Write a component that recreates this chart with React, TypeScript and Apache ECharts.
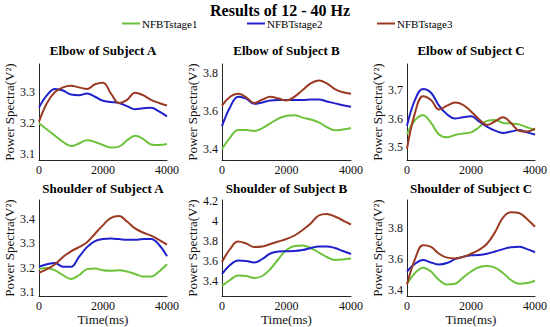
import React, { useEffect, useRef } from "react";
import * as echarts from "echarts";

const times = [0, 250, 500, 750, 1000, 1250, 1500, 1750, 2000, 2250, 2500, 2750, 3000, 3250, 3500, 3750, 4000];
const stageNames = ["NFBTstage1", "NFBTstage2", "NFBTstage3"];
const stageColors = ["#6cc23a", "#2020cc", "#9a3a22"];
const panelTitles = [
  "Elbow of Subject A", "Elbow of Subject B", "Elbow of Subject C",
  "Shoulder of Subject A", "Shoulder of Subject B", "Shoulder of Subject C",
];
const mainTitle = "Results of 12 - 40 Hz";
const yAxisName = "Power Spectra(V²)";
const xAxisName = "Time(ms)";

// Elbow A
const elbowA1 = [3.2, 3.18, 3.16, 3.14, 3.127, 3.135, 3.145, 3.14, 3.13, 3.122, 3.125, 3.145, 3.16, 3.15, 3.132, 3.13, 3.133];
const elbowA2 = [3.25, 3.29, 3.31, 3.305, 3.292, 3.29, 3.295, 3.285, 3.272, 3.268, 3.265, 3.255, 3.245, 3.248, 3.25, 3.238, 3.222];
const elbowA3 = [3.205, 3.265, 3.3, 3.315, 3.32, 3.315, 3.31, 3.325, 3.33, 3.295, 3.265, 3.275, 3.298, 3.29, 3.275, 3.265, 3.257];
// Elbow B
const elbowB1 = [3.4, 3.46, 3.5, 3.5, 3.495, 3.51, 3.535, 3.56, 3.575, 3.578, 3.565, 3.555, 3.54, 3.515, 3.498, 3.502, 3.51];
const elbowB2 = [3.52, 3.62, 3.675, 3.665, 3.638, 3.645, 3.655, 3.657, 3.657, 3.658, 3.658, 3.66, 3.66, 3.65, 3.64, 3.63, 3.622];
const elbowB3 = [3.628, 3.675, 3.69, 3.672, 3.642, 3.66, 3.675, 3.665, 3.655, 3.675, 3.71, 3.745, 3.76, 3.745, 3.715, 3.698, 3.69];
// Elbow C
const elbowC1 = [3.545, 3.595, 3.612, 3.585, 3.545, 3.535, 3.543, 3.548, 3.552, 3.57, 3.592, 3.595, 3.585, 3.583, 3.58, 3.57, 3.56];
const elbowC2 = [3.575, 3.665, 3.703, 3.69, 3.645, 3.615, 3.6, 3.605, 3.608, 3.59, 3.572, 3.558, 3.55, 3.555, 3.56, 3.552, 3.545];
const elbowC3 = [3.495, 3.62, 3.678, 3.665, 3.632, 3.645, 3.656, 3.648, 3.625, 3.598, 3.578, 3.59, 3.605, 3.585, 3.558, 3.555, 3.565];
// Shoulder A
const shoulderA1 = [3.195, 3.2, 3.19, 3.17, 3.155, 3.17, 3.195, 3.198, 3.19, 3.188, 3.19, 3.185, 3.175, 3.165, 3.165, 3.185, 3.215];
const shoulderA2 = [3.205, 3.215, 3.22, 3.205, 3.205, 3.245, 3.285, 3.31, 3.318, 3.32, 3.318, 3.315, 3.315, 3.318, 3.318, 3.295, 3.248];
const shoulderA3 = [3.18, 3.195, 3.215, 3.245, 3.268, 3.285, 3.305, 3.34, 3.375, 3.405, 3.412, 3.39, 3.362, 3.345, 3.332, 3.315, 3.295];
// Shoulder B
const shoulderB1 = [3.35, 3.41, 3.455, 3.45, 3.43, 3.45, 3.52, 3.62, 3.71, 3.75, 3.755, 3.73, 3.685, 3.64, 3.61, 3.615, 3.625];
const shoulderB2 = [3.47, 3.56, 3.605, 3.6, 3.585, 3.62, 3.675, 3.695, 3.698, 3.7, 3.71, 3.73, 3.745, 3.745, 3.73, 3.7, 3.67];
const shoulderB3 = [3.59, 3.72, 3.795, 3.775, 3.74, 3.745, 3.77, 3.795, 3.82, 3.855, 3.91, 3.975, 4.055, 4.07, 4.045, 4.005, 3.965];
// Shoulder C
const shoulderC1 = [3.44, 3.51, 3.545, 3.52, 3.465, 3.435, 3.44, 3.48, 3.52, 3.548, 3.555, 3.545, 3.51, 3.465, 3.44, 3.445, 3.46];
const shoulderC2 = [3.52, 3.57, 3.595, 3.578, 3.565, 3.575, 3.6, 3.615, 3.625, 3.627, 3.635, 3.65, 3.665, 3.678, 3.68, 3.665, 3.645];
const shoulderC3 = [3.435, 3.6, 3.69, 3.68, 3.635, 3.61, 3.605, 3.615, 3.635, 3.66, 3.7, 3.775, 3.87, 3.905, 3.9, 3.86, 3.81];

const panelSeries = [
  [elbowA1, elbowA2, elbowA3],
  [elbowB1, elbowB2, elbowB3],
  [elbowC1, elbowC2, elbowC3],
  [shoulderA1, shoulderA2, shoulderA3],
  [shoulderB1, shoulderB2, shoulderB3],
  [shoulderC1, shoulderC2, shoulderC3],
];
const yMins = [3.082, 3.342, 3.456, 3.085, 3.25, 3.361];
const yMaxs = [3.39, 3.847, 3.79, 3.478, 4.21, 3.984];
const ySteps = [0.1, 0.2, 0.1, 0.1, 0.2, 0.2];
const xTicks = [0, 2000, 4000];

const FONT = "Liberation Serif";

export default function App() {
  const ref = useRef<HTMLDivElement>(null);
  useEffect(() => {
    if (!ref.current) return;
    const chart = echarts.init(ref.current, null, { renderer: "svg" });
    const lefts = [39, 222, 407];
    const widths = [128, 129, 128];
    const tops = [64, 200];
    const height = 96;
    const grids: any[] = [];
    const xAxes: any[] = [];
    const yAxes: any[] = [];
    const series: any[] = [];
    const graphics: any[] = [];
    const axisColor = "#262626";
    const plain = (v: number) => String(Math.round(v * 1000) / 1000);
    for (let i = 0; i < 6; i++) {
      const col = i % 3;
      const row = Math.floor(i / 3);
      grids.push({ left: lefts[col], top: tops[row], width: widths[col], height });
      xAxes.push({
        type: "value",
        gridIndex: i,
        min: xTicks[0],
        max: xTicks[xTicks.length - 1],
        interval: xTicks[1] - xTicks[0],
        axisLine: { show: true, lineStyle: { color: axisColor, width: 1 } },
        axisTick: { show: false },
        splitLine: { show: false },
        axisLabel: { color: "#111", fontFamily: FONT, fontSize: 12, margin: 4, formatter: plain },
        name: row === 1 ? xAxisName : "",
        nameLocation: "middle",
        nameGap: 14,
        nameTextStyle: { color: "#111", fontFamily: FONT, fontSize: 13, verticalAlign: "top" },
      });
      yAxes.push({
        type: "value",
        gridIndex: i,
        min: yMins[i],
        max: yMaxs[i],
        minInterval: ySteps[i],
        maxInterval: ySteps[i],
        axisLine: { show: true, lineStyle: { color: axisColor, width: 1 } },
        axisTick: { show: false },
        splitLine: { show: false },
        axisLabel: {
          color: "#111", fontFamily: FONT, fontSize: 12, margin: 4,
          showMinLabel: false, showMaxLabel: false, formatter: plain,
        },
        name: yAxisName,
        nameLocation: "middle",
        nameGap: 16,
        nameTextStyle: { color: "#111", fontFamily: FONT, fontSize: 13 },
      });
      for (let s = 0; s < 3; s++) {
        series.push({
          type: "line",
          name: stageNames[s],
          xAxisIndex: i,
          yAxisIndex: i,
          data: times.map((t, k) => [t, panelSeries[i][s][k]]),
          smooth: 0.4,
          showSymbol: false,
          symbol: "none",
          lineStyle: { color: stageColors[s], width: 2 },
          itemStyle: { color: stageColors[s] },
          z: 2 + s,
        });
      }
      graphics.push({
        type: "text",
        x: lefts[col] + widths[col] / 2,
        y: row === 0 ? 50 : 188,
        style: {
          text: panelTitles[i],
          fontFamily: FONT,
          fontSize: 13,
          fontWeight: "bold",
          fill: "#000",
          textAlign: "center",
          textVerticalAlign: "middle",
        },
      });
    }
    graphics.push({
      type: "text",
      x: 280,
      y: 10,
      style: {
        text: mainTitle,
        fontFamily: FONT,
        fontSize: 16,
        fontWeight: "bold",
        fill: "#000",
        textAlign: "center",
        textVerticalAlign: "middle",
      },
    });
    const legendLefts = [117, 242, 372];
    chart.setOption({
      animation: false,
      backgroundColor: "#fff",
      grid: grids,
      xAxis: xAxes,
      yAxis: yAxes,
      series,
      graphic: graphics,
      legend: stageNames.map((n, k) => ({
        data: [n],
        left: legendLefts[k],
        top: 13,
        icon: "rect",
        itemWidth: 18,
        itemHeight: 2,
        itemGap: 2,
        selectedMode: false,
        textStyle: { fontFamily: FONT, fontSize: 11, color: "#000", padding: [0, 0, 0, -3] },
      })),
    });
    return () => chart.dispose();
  }, []);
  return (
    <div
      ref={ref}
      style={{ position: "absolute", left: 0, top: 0, width: 550, height: 327 }}
    />
  );
}
